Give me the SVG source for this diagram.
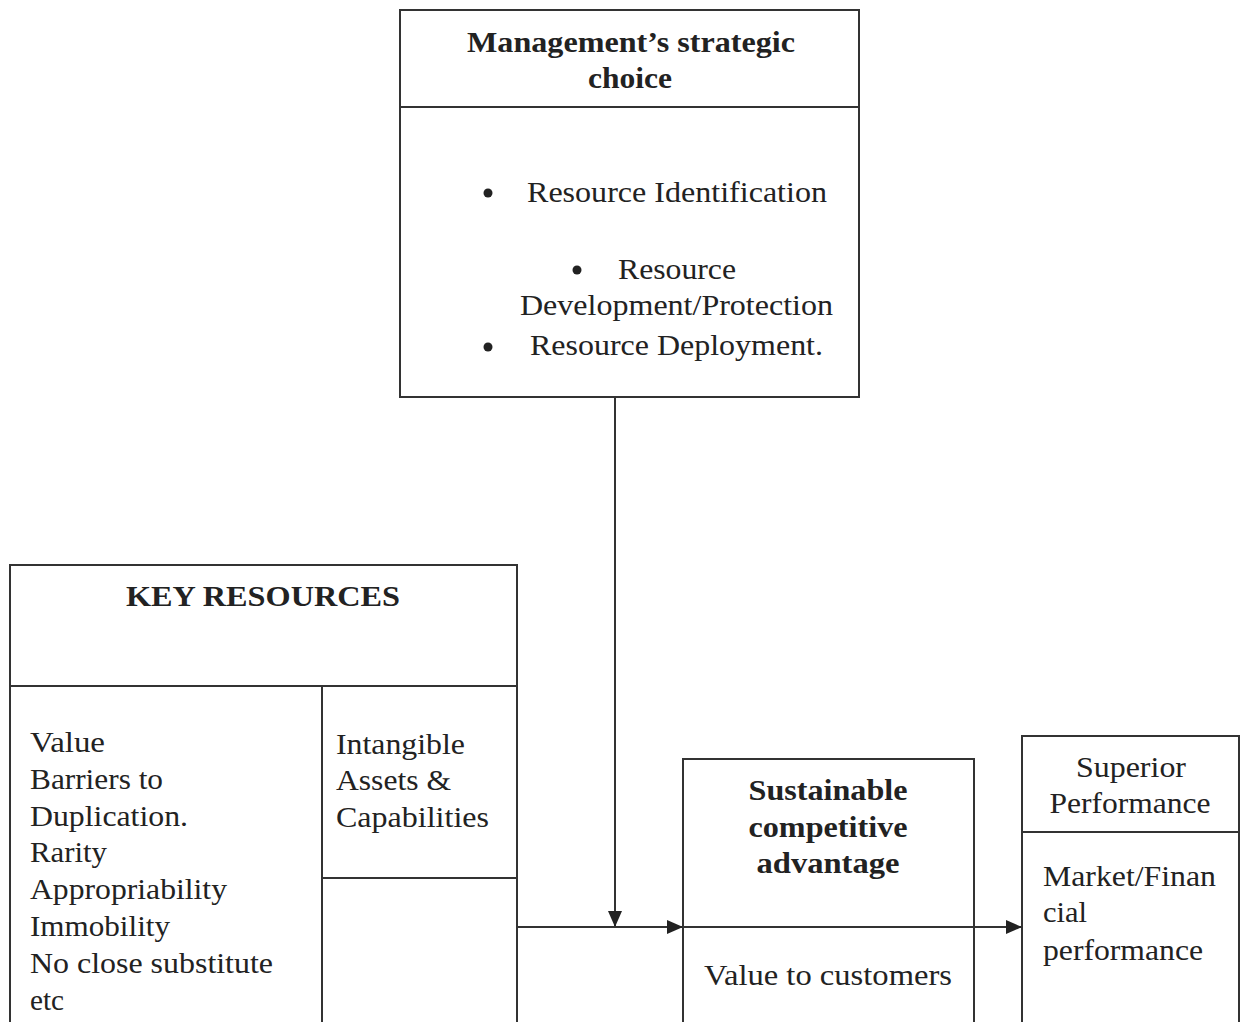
<svg xmlns="http://www.w3.org/2000/svg" width="1243" height="1022" viewBox="0 0 1243 1022">
<style>
.box{fill:none;stroke:#333;stroke-width:2}
.ln{fill:none;stroke:#333;stroke-width:2}
text{font-family:"Liberation Serif","Times New Roman",serif;font-size:30px;fill:#222}
.b{font-weight:bold}
.c{text-anchor:middle}
</style>
<defs>
<marker id="ahl" markerWidth="16" markerHeight="14" refX="16" refY="7" orient="auto" markerUnits="userSpaceOnUse">
<path d="M0,0 L16,7 L0,14 Z" fill="#222"/>
</marker>
</defs>
<rect width="1243" height="1022" fill="#fff"/>
<g id="management">
<rect class="box" x="400" y="10" width="459" height="387"/>
<line class="ln" x1="400" y1="107" x2="859" y2="107"/>
<text class="b c" x="631" y="52" textLength="328" lengthAdjust="spacingAndGlyphs">Management’s strategic</text>
<text class="b c" x="630" y="88" textLength="84" lengthAdjust="spacingAndGlyphs">choice</text>
<circle cx="488" cy="193" r="4.5" fill="#222"/>
<text x="527" y="202" textLength="300" lengthAdjust="spacingAndGlyphs">Resource Identification</text>
<circle cx="577" cy="270" r="4.5" fill="#222"/>
<text x="618" y="279" textLength="118" lengthAdjust="spacingAndGlyphs">Resource</text>
<text x="520" y="315" textLength="313" lengthAdjust="spacingAndGlyphs">Development/Protection</text>
<circle cx="488" cy="347" r="4.5" fill="#222"/>
<text x="530" y="355" textLength="293" lengthAdjust="spacingAndGlyphs">Resource Deployment.</text>
</g>
<g id="key-resources">
<rect class="box" x="10" y="565" width="507" height="470"/>
<line class="ln" x1="10" y1="686" x2="517" y2="686"/>
<line class="ln" x1="322" y1="686" x2="322" y2="1035"/>
<line class="ln" x1="322" y1="878" x2="517" y2="878"/>
<text class="b c" x="263" y="606" textLength="274" lengthAdjust="spacingAndGlyphs">KEY RESOURCES</text>
<text x="30" y="752" textLength="75" lengthAdjust="spacingAndGlyphs">Value</text>
<text x="30" y="789" textLength="133" lengthAdjust="spacingAndGlyphs">Barriers to</text>
<text x="30" y="826" textLength="158" lengthAdjust="spacingAndGlyphs">Duplication.</text>
<text x="30" y="862" textLength="77" lengthAdjust="spacingAndGlyphs">Rarity</text>
<text x="30" y="899" textLength="197" lengthAdjust="spacingAndGlyphs">Appropriability</text>
<text x="30" y="936" textLength="140" lengthAdjust="spacingAndGlyphs">Immobility</text>
<text x="30" y="973" textLength="243" lengthAdjust="spacingAndGlyphs">No close substitute</text>
<text x="30" y="1010" textLength="34" lengthAdjust="spacingAndGlyphs">etc</text>
<text x="336" y="754" textLength="129" lengthAdjust="spacingAndGlyphs">Intangible</text>
<text x="336" y="790" textLength="115" lengthAdjust="spacingAndGlyphs">Assets &amp;</text>
<text x="336" y="827" textLength="153" lengthAdjust="spacingAndGlyphs">Capabilities</text>
</g>
<g id="sustainable">
<rect class="box" x="683" y="759" width="291" height="276"/>
<text class="b c" x="828" y="800" textLength="159" lengthAdjust="spacingAndGlyphs">Sustainable</text>
<text class="b c" x="828" y="837" textLength="159" lengthAdjust="spacingAndGlyphs">competitive</text>
<text class="b c" x="828" y="873" textLength="143" lengthAdjust="spacingAndGlyphs">advantage</text>
<text class="c" x="828" y="985" textLength="248" lengthAdjust="spacingAndGlyphs">Value to customers</text>
</g>
<g id="superior">
<rect class="box" x="1022" y="736" width="217" height="300"/>
<line class="ln" x1="1022" y1="832" x2="1239" y2="832"/>
<text class="c" x="1131" y="777" textLength="110" lengthAdjust="spacingAndGlyphs">Superior</text>
<text class="c" x="1130" y="813" textLength="161" lengthAdjust="spacingAndGlyphs">Performance</text>
<text x="1043" y="886" textLength="173" lengthAdjust="spacingAndGlyphs">Market/Finan</text>
<text x="1043" y="922" textLength="44" lengthAdjust="spacingAndGlyphs">cial</text>
<text x="1043" y="960" textLength="160" lengthAdjust="spacingAndGlyphs">performance</text>
</g>
<g id="connectors">
<line class="ln" x1="615" y1="397" x2="615" y2="927" marker-end="url(#ahl)"/>
<line class="ln" x1="517" y1="927" x2="683" y2="927" marker-end="url(#ahl)"/>
<line class="ln" x1="683" y1="927" x2="1022" y2="927" marker-end="url(#ahl)"/>
</g>
</svg>
